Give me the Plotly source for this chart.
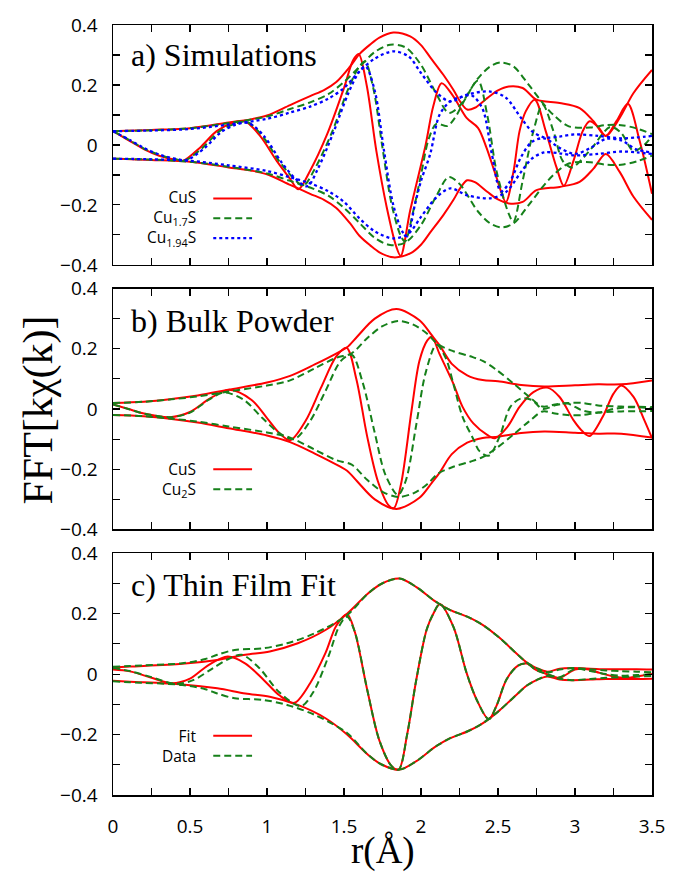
import numpy as np
import plotly.graph_objects as go

# ---------------- Panel a: Simulations ----------------
a_cus_mag_r = [0, 0.25, 0.5, 0.75, 0.9, 1.0, 1.15, 1.28, 1.37, 1.45, 1.54, 1.6, 1.67, 1.73, 1.82, 1.93, 2.0, 2.06,
               2.145, 2.21, 2.26, 2.3, 2.35, 2.43, 2.5, 2.57, 2.66, 2.75, 2.9, 3.03, 3.12, 3.2, 3.29, 3.38, 3.5]
a_cus_mag = [0.046, 0.05, 0.056, 0.075, 0.086, 0.098, 0.133, 0.163, 0.183, 0.21, 0.262, 0.303, 0.335, 0.358, 0.375,
             0.362, 0.333, 0.292, 0.234, 0.184, 0.14, 0.118, 0.124, 0.156, 0.182, 0.195, 0.19, 0.151, 0.14, 0.123,
             0.079, 0.03, 0.09, 0.173, 0.25]
a_cus_re_r = [0, 0.11, 0.2, 0.3, 0.41, 0.455, 0.565, 0.673, 0.78, 0.857, 0.955, 1.063, 1.15, 1.204, 1.28, 1.39, 1.5,
              1.56, 1.595, 1.647, 1.71, 1.777, 1.84, 1.868, 1.93, 2.03, 2.08, 2.134, 2.21, 2.296, 2.37, 2.425, 2.49,
              2.551, 2.6, 2.64, 2.68, 2.739, 2.81, 2.88, 2.927, 2.99, 3.05, 3.095, 3.15, 3.2, 3.27, 3.343, 3.42, 3.5]
a_cus_re = [0.046, 0.013, -0.014, -0.036, -0.05, -0.053, -0.009, 0.046, 0.074, 0.079, 0.03, -0.053, -0.113, -0.148,
            -0.086, 0.035, 0.19, 0.283, 0.303, 0.2, -0.02, -0.207, -0.34, -0.37, -0.218, 0.0, 0.13, 0.206, 0.162,
            0.09, 0.057, -0.009, -0.108, -0.19, -0.09, 0.046, 0.112, 0.151, 0.046, -0.075, -0.136, -0.053, 0.046,
            0.079, 0.06, 0.03, 0.08, 0.137, 0.013, -0.163]

a_cu17_mag_r = [0, 0.25, 0.5, 0.75, 1.0, 1.15, 1.28, 1.4, 1.5, 1.6, 1.7, 1.8, 1.9, 2.0, 2.1, 2.18, 2.25, 2.37, 2.45,
                2.52, 2.6, 2.7, 2.79, 2.86, 2.96, 3.1, 3.2, 3.3, 3.4, 3.5]
a_cu17_mag = [0.046, 0.049, 0.056, 0.073, 0.095, 0.12, 0.142, 0.17, 0.21, 0.26, 0.31, 0.334, 0.325, 0.267, 0.17,
              0.107, 0.13, 0.222, 0.262, 0.275, 0.262, 0.2, 0.14, 0.1, 0.062, 0.058, 0.066, 0.066, 0.055, 0.036]
a_cu17_re_r = [0, 0.11, 0.2, 0.3, 0.42, 0.47, 0.58, 0.69, 0.8, 0.87, 0.97, 1.08, 1.17, 1.236, 1.31, 1.42, 1.53,
               1.6, 1.636, 1.69, 1.75, 1.81, 1.87, 1.896, 1.95, 2.0, 2.05, 2.1, 2.17, 2.22, 2.29, 2.37, 2.43, 2.49,
               2.57, 2.6, 2.66, 2.73, 2.79, 2.86, 2.92, 2.98, 3.05, 3.11, 3.23, 3.3, 3.38, 3.45, 3.5]
a_cu17_re = [0.046, 0.015, -0.012, -0.033, -0.049, -0.051, -0.01, 0.045, 0.072, 0.077, 0.03, -0.055, -0.11, -0.136,
             -0.08, 0.04, 0.19, 0.262, 0.278, 0.19, -0.01, -0.2, -0.305, -0.322, -0.22, -0.1, 0.02, 0.07, 0.063,
             0.09, 0.156, 0.214, 0.1, -0.086, -0.23, -0.257, -0.12, 0.046, 0.134, 0.046, -0.053, -0.075, -0.045,
             -0.01, 0.06, 0.04, -0.02, 0.0, 0.03]

a_cu194_mag_r = [0, 0.25, 0.5, 0.75, 1.0, 1.15, 1.28, 1.4, 1.5, 1.6, 1.7, 1.82, 1.92, 2.0, 2.1, 2.19, 2.3, 2.45,
                 2.55, 2.65, 2.72, 2.8, 2.9, 3.0, 3.15, 3.3, 3.4, 3.5]
a_cu194_mag = [0.046, 0.048, 0.053, 0.068, 0.087, 0.108, 0.128, 0.155, 0.19, 0.245, 0.288, 0.312, 0.295, 0.24,
               0.175, 0.145, 0.168, 0.178, 0.158, 0.09, 0.046, 0.025, 0.028, 0.035, 0.03, 0.022, 0.025, 0.03]
a_cu194_re_r = [0, 0.11, 0.2, 0.3, 0.42, 0.48, 0.6, 0.7, 0.8, 0.88, 0.98, 1.09, 1.18, 1.26, 1.33, 1.43, 1.53, 1.6,
                1.64, 1.7, 1.76, 1.82, 1.88, 1.91, 1.96, 2.0, 2.06, 2.12, 2.19, 2.26, 2.33, 2.4, 2.46, 2.52, 2.58,
                2.65, 2.72, 2.8, 2.9, 3.0, 3.1, 3.2, 3.3, 3.4, 3.5]
a_cu194_re = [0.046, 0.016, -0.01, -0.032, -0.048, -0.05, -0.008, 0.042, 0.068, 0.073, 0.03, -0.055, -0.11, -0.138,
              -0.08, 0.04, 0.175, 0.245, 0.262, 0.18, -0.02, -0.2, -0.29, -0.305, -0.2, -0.12, -0.03, 0.1, 0.145,
              0.16, 0.165, 0.12, -0.03, -0.155, -0.12, -0.04, 0.01, 0.022, -0.01, -0.03, -0.01, 0.02, 0.015,
              -0.015, -0.025]

# ---------------- Panel b: Bulk Powder ----------------
b_cus_mag_r = [0, 0.2, 0.38, 0.55, 0.75, 1.0, 1.15, 1.31, 1.47, 1.52, 1.585, 1.7, 1.84, 1.99, 2.07, 2.12, 2.2, 2.3,
               2.4, 2.5, 2.65, 2.8, 3.0, 3.15, 3.3, 3.5]
b_cus_mag = [0.02, 0.024, 0.033, 0.045, 0.064, 0.088, 0.11, 0.148, 0.19, 0.205, 0.24, 0.3, 0.332, 0.295, 0.245,
             0.212, 0.15, 0.112, 0.096, 0.092, 0.08, 0.075, 0.079, 0.082, 0.082, 0.095]
b_cus_re_r = [0, 0.1, 0.2, 0.37, 0.5, 0.63, 0.756, 0.9, 1.0, 1.08, 1.15, 1.25, 1.35, 1.45, 1.517, 1.58, 1.65, 1.72,
              1.79, 1.824, 1.87, 1.94, 1.99, 2.04, 2.07, 2.12, 2.21, 2.27, 2.34, 2.43, 2.48, 2.56, 2.64, 2.73, 2.82,
              2.9, 2.99, 3.05, 3.095, 3.18, 3.25, 3.3, 3.38, 3.45, 3.5]
b_cus_re = [0.015, 0.0, -0.015, -0.027, -0.01, 0.035, 0.064, 0.03, -0.03, -0.08, -0.104, -0.04, 0.07, 0.175, 0.203,
            0.1, -0.09, -0.24, -0.32, -0.329, -0.25, 0.0, 0.16, 0.227, 0.24, 0.183, 0.084, 0.007, -0.048, -0.086,
            -0.097, -0.06, 0.007, 0.056, 0.071, 0.04, -0.037, -0.075, -0.09, -0.026, 0.051, 0.078, 0.04, -0.037,
            -0.097]

b_cu2s_mag_r = [0, 0.2, 0.38, 0.55, 0.75, 1.0, 1.15, 1.31, 1.45, 1.55, 1.65, 1.75, 1.85, 1.95, 2.04, 2.11, 2.21,
                2.32, 2.4, 2.49, 2.6, 2.7, 2.79, 2.87, 2.95, 3.05, 3.15, 3.3, 3.5]
b_cu2s_mag = [0.02, 0.024, 0.032, 0.042, 0.058, 0.078, 0.095, 0.135, 0.17, 0.185, 0.235, 0.275, 0.292, 0.28, 0.25,
              0.215, 0.192, 0.175, 0.16, 0.13, 0.085, 0.042, 0.008, 0.015, 0.02, 0.02, 0.012, 0.008, 0.007]
b_cu2s_re_r = [0, 0.1, 0.2, 0.37, 0.5, 0.62, 0.72, 0.85, 0.97, 1.08, 1.177, 1.28, 1.38, 1.48, 1.55, 1.62, 1.7,
               1.77, 1.85, 1.9, 1.97, 2.03, 2.1, 2.16, 2.21, 2.27, 2.34, 2.38, 2.44, 2.51, 2.58, 2.65, 2.72, 2.79,
               2.87, 2.95, 3.05, 3.15, 3.25, 3.35, 3.5]
b_cu2s_re = [0.015, 0.0, -0.015, -0.027, -0.012, 0.03, 0.055, 0.03, -0.03, -0.08, -0.1, -0.04, 0.06, 0.16, 0.18,
             0.09, -0.08, -0.22, -0.285, -0.24, -0.05, 0.12, 0.213, 0.17, 0.084, -0.026, -0.1, -0.14, -0.155,
             -0.092, 0.007, 0.035, 0.03, 0.0, 0.012, 0.018, -0.005, -0.012, 0.0, 0.006, 0.003]

# ---------------- Panel c: Thin Film Fit ----------------
c_fit_mag_r = [0, 0.11, 0.45, 0.677, 0.86, 1.018, 1.2, 1.38, 1.52, 1.654, 1.744, 1.86, 1.97, 2.08, 2.12, 2.19, 2.3,
               2.4, 2.51, 2.62, 2.69, 2.75, 2.82, 2.9, 2.98, 3.1, 3.2, 3.3, 3.4, 3.5]
c_fit_mag = [0.022, 0.025, 0.034, 0.047, 0.064, 0.075, 0.102, 0.146, 0.2, 0.266, 0.299, 0.316, 0.288, 0.245, 0.232,
             0.212, 0.19, 0.163, 0.12, 0.068, 0.037, 0.02, 0.008, 0.018, 0.02, 0.018, 0.016, 0.016, 0.016, 0.015]
c_fit_re_r = [0, 0.11, 0.25, 0.38, 0.5, 0.62, 0.745, 0.86, 0.98, 1.08, 1.177, 1.28, 1.38, 1.45, 1.52, 1.57, 1.65,
              1.73, 1.81, 1.855, 1.91, 1.97, 2.036, 2.08, 2.123, 2.21, 2.296, 2.36, 2.44, 2.49, 2.556, 2.63, 2.686,
              2.75, 2.82, 2.9, 3.0, 3.08, 3.16, 3.25, 3.33, 3.42, 3.5]
c_fit_re = [0.015, 0.009, -0.012, -0.03, -0.015, 0.03, 0.058, 0.035, -0.02, -0.07, -0.095, -0.03, 0.07, 0.16,
            0.198, 0.14, -0.05, -0.22, -0.305, -0.316, -0.2, -0.017, 0.146, 0.2, 0.232, 0.157, 0.004, -0.083,
            -0.149, -0.105, -0.017, 0.028, 0.035, 0.013, 0.0, -0.012, 0.015, 0.016, 0.004, -0.008, -0.013, -0.006,
            0.0]

c_data_mag_r = [0, 0.11, 0.45, 0.6, 0.677, 0.79, 0.97, 1.13, 1.31, 1.52, 1.654, 1.744, 1.86, 1.97, 2.08, 2.12,
                2.19, 2.3, 2.4, 2.51, 2.62, 2.69, 2.75, 2.82, 2.9, 2.98, 3.1, 3.2, 3.3, 3.4, 3.5]
c_data_mag = [0.024, 0.027, 0.036, 0.05, 0.064, 0.08, 0.085, 0.102, 0.135, 0.195, 0.266, 0.299, 0.316, 0.288,
              0.245, 0.232, 0.212, 0.19, 0.163, 0.12, 0.068, 0.037, 0.02, 0.006, 0.015, 0.02, 0.016, 0.012, 0.01,
              0.008, 0.006]
c_data_re_r = [0, 0.11, 0.25, 0.405, 0.52, 0.65, 0.75, 0.836, 0.95, 1.08, 1.22, 1.3, 1.4, 1.47, 1.52, 1.57, 1.65,
               1.73, 1.81, 1.855, 1.91, 1.97, 2.036, 2.08, 2.123, 2.21, 2.296, 2.36, 2.44, 2.49, 2.556, 2.63, 2.686,
               2.75, 2.82, 2.9, 3.0, 3.1, 3.2, 3.3, 3.4, 3.5]
c_data_re = [0.02, 0.01, -0.01, -0.032, -0.02, 0.02, 0.05, 0.064, 0.02, -0.06, -0.106, -0.06, 0.06, 0.16, 0.19,
             0.14, -0.05, -0.22, -0.305, -0.316, -0.2, -0.017, 0.146, 0.2, 0.232, 0.157, 0.004, -0.083, -0.149,
             -0.105, -0.017, 0.028, 0.035, 0.013, 0.0, -0.01, 0.017, 0.01, 0.0, -0.005, -0.003, 0.0]

legend_a = ["CuS", "Cu<sub>1.7</sub>S", "Cu<sub>1.94</sub>S"]
legend_b = ["CuS", "Cu<sub>2</sub>S"]
legend_c = ["Fit", "Data"]

RED = "#ff0000"
GREEN = "#16801a"
BLUE = "#0000ff"
styles = {
    "solid": dict(color=RED, width=2),
    "dash": dict(color=GREEN, width=2, dash="7px,4px"),
    "dot": dict(color=BLUE, width=2.3, dash="3px,3px"),
}

panels = [
    ("", [
        (a_cus_mag_r, a_cus_mag, a_cus_re_r, a_cus_re, "solid"),
        (a_cu17_mag_r, a_cu17_mag, a_cu17_re_r, a_cu17_re, "dash"),
        (a_cu194_mag_r, a_cu194_mag, a_cu194_re_r, a_cu194_re, "dot"),
    ]),
    ("2", [
        (b_cus_mag_r, b_cus_mag, b_cus_re_r, b_cus_re, "solid"),
        (b_cu2s_mag_r, b_cu2s_mag, b_cu2s_re_r, b_cu2s_re, "dash"),
    ]),
    ("3", [
        (c_fit_mag_r, c_fit_mag, c_fit_re_r, c_fit_re, "solid"),
        (c_data_mag_r, c_data_mag, c_data_re_r, c_data_re, "dash"),
    ]),
]

fig = go.Figure()
for suffix, series in panels:
    xa, ya = "x" + suffix, "y" + suffix
    for mr, mv, rr, rv, st in series:
        mv = np.array(mv)
        for xs, ys in ((mr, mv), (mr, -mv), (rr, rv)):
            fig.add_trace(go.Scatter(x=xs, y=ys, mode="lines", xaxis=xa, yaxis=ya, showlegend=False,
                                     line=dict(shape="spline", smoothing=0.9, **styles[st]),
                                     hoverinfo="skip"))

TICKFONT = dict(family="Open Sans", size=19, color="black")
ax_common = dict(range=[0, 3.5], showgrid=False, zeroline=False, showline=True, linecolor="black", linewidth=1.5,
                 mirror="allticks", ticks="inside", ticklen=7, tickcolor="black", tickwidth=1.2,
                 tickvals=[0, 0.5, 1, 1.5, 2, 2.5, 3, 3.5],
                 minor=dict(tickvals=[0.25, 0.75, 1.25, 1.75, 2.25, 2.75, 3.25], ticks="inside", ticklen=7,
                            tickcolor="black", tickwidth=1.2),
                 tickfont=TICKFONT)
ay_common = dict(range=[-0.4, 0.4], showgrid=False, zeroline=False, showline=True, linecolor="black",
                 linewidth=1.5, mirror="allticks", ticks="inside", ticklen=7, tickcolor="black", tickwidth=1.2,
                 tickvals=[-0.4, -0.2, 0, 0.2, 0.4],
                 minor=dict(tickvals=[-0.3, -0.1, 0.1, 0.3], ticks="inside", ticklen=7, tickcolor="black",
                            tickwidth=1.2),
                 tickfont=TICKFONT, ticklabelstandoff=10)

dom_a = [0.6885, 1.0]
dom_b = [0.3449, 0.6577]
dom_c = [0.0, 0.314]

fig.update_layout(
    width=679, height=874, margin=dict(l=113, r=27, t=18, b=79),
    paper_bgcolor="white", plot_bgcolor="white",
    xaxis=dict(ax_common, anchor="y", showticklabels=False),
    xaxis2=dict(ax_common, anchor="y2", showticklabels=False),
    xaxis3=dict(ax_common, anchor="y3", showticklabels=True, ticklabelstandoff=14),
    yaxis=dict(ay_common, anchor="x", domain=dom_a),
    yaxis2=dict(ay_common, anchor="x2", domain=dom_b),
    yaxis3=dict(ay_common, anchor="x3", domain=dom_c),
)

SERIF = "Liberation Serif"
ann = []
for suffix, label, ypos in (("", "a) Simulations", 0.875), ("2", "b) Bulk Powder", 0.865), ("3", "c) Thin Film Fit", 0.867)):
    ann.append(dict(text=label, xref=("x" + suffix) + " domain", yref=("y" + suffix) + " domain", x=0.03, y=ypos,
                    xanchor="left", yanchor="middle", showarrow=False, font=dict(family=SERIF, size=32, color="black")))

# legends: gnuplot style (right-aligned text block, line samples to its right)
LEG_FS = 15.5
line_h = 1.3 * LEG_FS  # px between legend lines
shapes = []
for suffix, names, stys, center in (("", legend_a, ["solid", "dash", "dot"], 0.194),
                                    ("2", legend_b, ["solid", "dash"], 0.208),
                                    ("3", legend_c, ["solid", "dash"], 0.204)):
    xr, yr = ("x" + suffix) + " domain", ("y" + suffix) + " domain"
    ann.append(dict(text="<br>".join(names), xref=xr, yref=yr, x=0.158, y=center, xanchor="right",
                    yanchor="middle", align="right", showarrow=False,
                    font=dict(family="Open Sans", size=LEG_FS, color="black")))
    n = len(names)
    step = line_h / 243.0
    for i, st in enumerate(stys):
        yy = center + ((n - 1) / 2.0 - i) * step
        shapes.append(dict(type="line", xref=xr, yref=yr, x0=0.186, x1=0.258, y0=yy, y1=yy, line=styles[st]))

ann.append(dict(text="FFT[kχ(k)]", xref="paper", yref="paper", x=-0.14, y=0.5, textangle=-90, showarrow=False,
                xanchor="center", yanchor="middle", font=dict(family=SERIF, size=42, color="black")))
ann.append(dict(text="r(Å)", xref="paper", yref="paper", x=0.5, y=-0.073, showarrow=False,
                xanchor="center", yanchor="middle", font=dict(family=SERIF, size=37, color="black")))

fig.update_layout(annotations=ann, shapes=shapes)
fig.write_html("out.html", config={"displayModeBar": False, "staticPlot": True},
               post_script="document.body.style.margin='0px';document.body.style.overflow='hidden';")
